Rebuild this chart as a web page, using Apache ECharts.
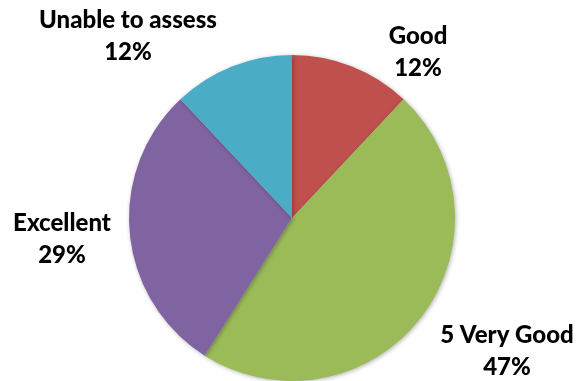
<!DOCTYPE html>
<html><head><meta charset="utf-8">
<script src="https://cdn.jsdelivr.net/npm/echarts@6/dist/echarts.min.js"></script>
<style>html,body{margin:0;padding:0;background:#fff}#c{width:577px;height:381px}</style>
</head><body><div id="c"></div>
<script>
const categories = ['Good', '5 Very Good', 'Excellent', 'Unable to assess'];
const values = [12, 47, 29, 12];
const colors = ['#C0504D', '#9BBB59', '#8064A2', '#4BACC6'];
const labelPos = [[418, 52], [507, 351], [62, 239], [128, 36]];

const chart = echarts.init(document.getElementById('c'), null, {renderer: 'canvas'});
chart.setOption({
  animation: false,
  series: [{
    type: 'pie',
    center: [292, 218],
    radius: 163,
    startAngle: 90,
    clockwise: true,
    data: categories.map((n, i) => ({name: n, value: values[i], itemStyle: {color: colors[i]}})),
    itemStyle: {shadowBlur: 4, shadowColor: 'rgba(0,0,0,0.3)', shadowOffsetX: 1, shadowOffsetY: 1},
    emphasis: {disabled: true},
    label: {
      show: true,
      position: 'outside',
      overflow: 'none',
      formatter: p => p.name + '\n' + values[p.dataIndex] + '%',
      fontFamily: 'Lato',
      fontWeight: 900,
      fontSize: 24,
      lineHeight: 32,
      color: '#000',
      align: 'center'
    },
    labelLine: {show: false},
    labelLayout: p => ({x: labelPos[p.dataIndex][0], y: labelPos[p.dataIndex][1], align: 'center', verticalAlign: 'middle'})
  }]
});
</script></body></html>
